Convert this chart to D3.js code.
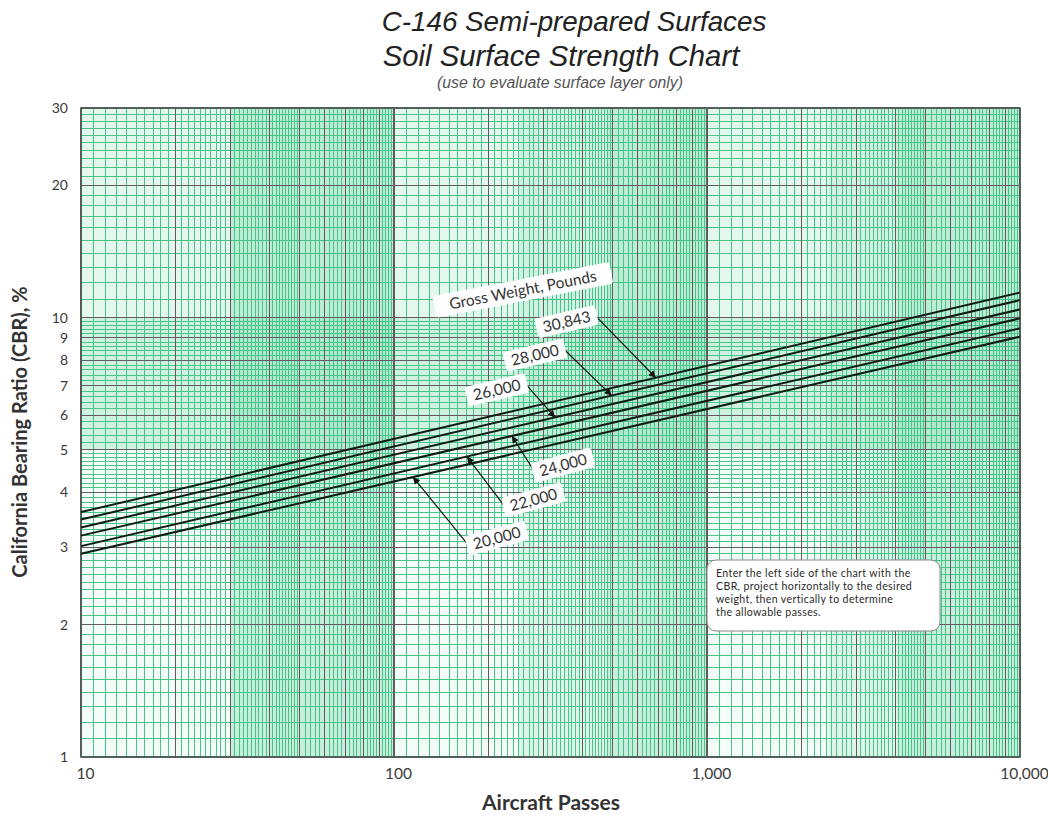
<!DOCTYPE html>
<html>
<head>
<meta charset="utf-8">
<script src="https://cdn.jsdelivr.net/npm/d3@7"></script>
<style>
  html, body { margin: 0; padding: 0; background: #ffffff; }
  svg { display: block; }
</style>
</head>
<body>
<svg id="chart" width="1048" height="816"></svg>
<script>
// ---------------- DATA ----------------
const weightLabels = ["20,000", "22,000", "24,000", "26,000", "28,000", "30,843"];
const passesEnds   = [10, 10000];
const cbrAt10      = [2.90, 3.02, 3.19, 3.33, 3.47, 3.61];
const cbrAt10000   = [9.05, 9.46, 9.96, 10.44, 10.96, 11.40];

// label anchor (passes, CBR) and arrow target passes for each weight
const labelPasses  = [213, 279, 347, 213, 282, 356];
const labelCbr     = [3.15, 3.85, 4.62, 6.85, 8.22, 9.79];
const arrowPasses  = [115, 171, 238, 327, 496, 686];

const xTickValues  = [10, 100, 1000, 10000];
const xTickLabels  = ["10", "100", "1,000", "10,000"];
const yTickValues  = [1, 2, 3, 4, 5, 6, 7, 8, 9, 10, 20, 30];
const yTickLabels  = ["1", "2", "3", "4", "5", "6", "7", "8", "9", "10", "20", "30"];

// tinted bands of the graph paper (passes ranges / CBR ranges)
const shadeXFrom   = [30, 250, 480, 2450, 4100];
const shadeXTo     = [100, 480, 1000, 4100, 10000];
const shadeXLevel  = [1, 0.5, 1, 0.5, 1];
const shadeYFrom   = [5, 10];
const shadeYTo     = [10, 30];
const shadeYLevel  = [1, 0.45];

const titleLines   = ["C-146 Semi-prepared Surfaces", "Soil Surface Strength Chart"];
const subtitle     = "(use to evaluate surface layer only)";
const xTitle       = "Aircraft Passes";
const yTitle       = "California Bearing Ratio (CBR), %";
const groupTitle   = "Gross Weight, Pounds";
const groupPos     = [258, 11.56];
const noteLines    = ["Enter the left side of the chart with the",
                      "CBR, project horizontally to the desired",
                      "weight, then vertically to determine",
                      "the allowable passes."];

// ---------------- CHART ----------------
const svg = d3.select("#chart");
const x = d3.scaleLog().domain([10, 10000]).range([81, 1020]);
const y = d3.scaleLog().domain([1, 30]).range([757, 108]);
const [x0, x1] = x.range();
const [y0, y1] = y.range();

svg.append("rect").attr("x", x0).attr("y", y1).attr("width", x1 - x0).attr("height", y0 - y1)
  .attr("fill", "#f3fcf7");

// shaded bands
const shadeG = svg.append("g").attr("shape-rendering", "crispEdges");
shadeXFrom.forEach((f, i) => {
  shadeG.append("rect").attr("x", x(f)).attr("y", y1)
    .attr("width", x(shadeXTo[i]) - x(f)).attr("height", y0 - y1)
    .attr("fill", "#7fd9ad").attr("fill-opacity", 0.38 * shadeXLevel[i]);
});
shadeYFrom.forEach((f, i) => {
  shadeG.append("rect").attr("x", x0).attr("y", y(shadeYTo[i]))
    .attr("width", x1 - x0).attr("height", y(f) - y(shadeYTo[i]))
    .attr("fill", "#7fd9ad").attr("fill-opacity", 0.3 * shadeYLevel[i]);
});

// grid values: finer steps in the lower half of each decade
const xMinor = [], xMajor = [];
[10, 100, 1000].forEach(d => {
  for (let k = 101; k < 1000; k++) {
    if (k % 100 === 0) continue;
    if (k < 500 && k % 10 === 0) xMinor.push(d * k / 100);
    else if (k >= 500 && k % 20 === 0) xMinor.push(d * k / 100);
  }
  for (let k = 1; k <= 9; k++) xMajor.push(d * k);
});
xMajor.push(10000);
const yMinor = [], yMajor = [];
for (let k = 101; k < 1000; k++) {
  if (k % 100 === 0) continue;
  if (k < 500 && k % 10 === 0) yMinor.push(k / 100);
  else if (k >= 500 && k % 20 === 0) yMinor.push(k / 100);
}
for (let k = 11; k <= 29; k++) if (k % 10 !== 0) yMinor.push(k);
for (let k = 1; k <= 10; k++) yMajor.push(k);
yMajor.push(20, 30);

const minorColor = "#48c48a";
const majorColor = "#625a5e";
const grid = svg.append("g").attr("shape-rendering", "crispEdges");
grid.selectAll(".xm").data(xMinor).join("line")
  .attr("x1", d => x(d)).attr("x2", d => x(d)).attr("y1", y1).attr("y2", y0)
  .attr("stroke", minorColor).attr("stroke-width", 1);
grid.selectAll(".ym").data(yMinor).join("line")
  .attr("y1", d => y(d)).attr("y2", d => y(d)).attr("x1", x0).attr("x2", x1)
  .attr("stroke", minorColor).attr("stroke-width", 1);
grid.selectAll(".xM").data(xMajor).join("line")
  .attr("x1", d => x(d)).attr("x2", d => x(d)).attr("y1", y1).attr("y2", y0)
  .attr("stroke", majorColor).attr("stroke-width", 1.2);
grid.selectAll(".yM").data(yMajor).join("line")
  .attr("y1", d => y(d)).attr("y2", d => y(d)).attr("x1", x0).attr("x2", x1)
  .attr("stroke", majorColor).attr("stroke-width", 1.2);

svg.append("rect").attr("x", x0).attr("y", y1).attr("width", x1 - x0).attr("height", y0 - y1)
  .attr("fill", "none").attr("stroke", "#4d6358").attr("stroke-width", 1.5);

const font = "Lato, 'Open Sans', sans-serif";

// axes
const xAxis = svg.append("g").attr("transform", `translate(0,${y0})`)
  .call(d3.axisBottom(x).tickValues(xTickValues).tickSize(0).tickPadding(11)
    .tickFormat((d, i) => xTickLabels[i]));
xAxis.select(".domain").remove();
xAxis.selectAll("text").attr("font-family", font)
  .attr("font-size", 15.5).attr("fill", "#3a3a3a").attr("dx", 4);

const yAxis = svg.append("g").attr("transform", `translate(${x0},0)`)
  .call(d3.axisLeft(y).tickValues(yTickValues).tickSize(0).tickPadding(13)
    .tickFormat((d, i) => yTickLabels[i]));
yAxis.select(".domain").remove();
yAxis.selectAll("text").attr("font-family", font)
  .attr("font-size", 14).attr("fill", "#3a3a3a");

// data lines
const lineGen = d3.line().x(d => x(d[0])).y(d => y(d[1]));
const series = weightLabels.map((w, i) => ({
  label: w,
  pts: [[passesEnds[0], cbrAt10[i]], [passesEnds[1], cbrAt10000[i]]]
}));
svg.append("g").selectAll("path").data(series).join("path")
  .attr("d", d => lineGen(d.pts)).attr("fill", "none")
  .attr("stroke", "#0e1a12").attr("stroke-width", 2);

function cbrOn(i, p) {
  const t = (Math.log10(p) - 1) / 3;
  return Math.pow(10, Math.log10(cbrAt10[i]) + t * (Math.log10(cbrAt10000[i]) - Math.log10(cbrAt10[i])));
}

svg.append("defs").append("marker").attr("id", "arr")
  .attr("viewBox", "0 0 10 10").attr("refX", 10).attr("refY", 5)
  .attr("markerWidth", 10).attr("markerHeight", 7).attr("markerUnits", "userSpaceOnUse")
  .attr("orient", "auto")
  .append("path").attr("d", "M0,0 L10,5 L0,10 Z").attr("fill", "#111");

const labG = svg.append("g");
weightLabels.forEach((w, i) => {
  const cx = x(labelPasses[i]), cy = y(labelCbr[i]);
  const top = i >= 3;
  const ang = top ? -13 : -15;
  const rad = ang * Math.PI / 180;
  const half = 28;
  const sx = cx + (top ? 1 : -1) * (half + 1) * Math.cos(rad);
  const sy = cy + (top ? 1 : -1) * (half + 1) * Math.sin(rad);
  const tx = x(arrowPasses[i]), ty = y(cbrOn(i, arrowPasses[i]));
  labG.append("line").attr("x1", sx).attr("y1", sy).attr("x2", tx).attr("y2", ty)
    .attr("stroke", "#111").attr("stroke-width", 1.2).attr("marker-end", "url(#arr)");
  const g = labG.append("g").attr("transform", `translate(${cx},${cy}) rotate(${ang})`);
  g.append("rect").attr("x", -half - 3).attr("y", -10).attr("width", 2 * half + 6).attr("height", 20)
    .attr("rx", 3).attr("fill", "#ffffff");
  g.append("text").attr("text-anchor", "middle").attr("dy", "0.35em")
    .attr("font-family", font).attr("font-size", 15.5).attr("fill", "#333")
    .text(w);
});

// group title
{
  const cx = x(groupPos[0]), cy = y(groupPos[1]);
  const g = svg.append("g").attr("transform", `translate(${cx},${cy}) rotate(-11)`);
  g.append("rect").attr("x", -90).attr("y", -11).attr("width", 180).attr("height", 22)
    .attr("rx", 3).attr("fill", "#ffffff");
  g.append("text").attr("text-anchor", "middle").attr("dy", "0.35em")
    .attr("font-family", font).attr("font-size", 15.5).attr("fill", "#333").text(groupTitle);
}

// note box
{
  const g = svg.append("g");
  g.append("rect").attr("x", 707).attr("y", 560).attr("width", 233).attr("height", 71)
    .attr("rx", 9).attr("fill", "#ffffff").attr("stroke", "#8a8a8a").attr("stroke-width", 1);
  g.selectAll("text").data(noteLines).join("text")
    .attr("x", 716).attr("y", (d, i) => 577 + i * 13)
    .attr("font-family", font).attr("font-size", 10.6).attr("letter-spacing", 0.35)
    .attr("fill", "#2a2a2a").text(d => d);
}

// titles
const titleFont = "'Liberation Sans', Arial, sans-serif";
svg.append("text").attr("x", 574).attr("y", 31).attr("text-anchor", "middle")
  .attr("font-family", titleFont).attr("font-style", "italic")
  .attr("font-size", 27.8).attr("fill", "#222").text(titleLines[0]);
svg.append("text").attr("x", 561).attr("y", 66).attr("text-anchor", "middle")
  .attr("font-family", titleFont).attr("font-style", "italic")
  .attr("font-size", 29.3).attr("fill", "#222").text(titleLines[1]);
svg.append("text").attr("x", 560).attr("y", 88).attr("text-anchor", "middle")
  .attr("font-family", titleFont).attr("font-style", "italic")
  .attr("font-size", 15.8).attr("fill", "#555").text(subtitle);

svg.append("text").attr("x", 551).attr("y", 810).attr("text-anchor", "middle")
  .attr("font-family", font).attr("font-weight", "bold").attr("font-size", 21)
  .attr("fill", "#333").text(xTitle);
svg.append("text").attr("transform", "translate(27,432) rotate(-90)").attr("text-anchor", "middle")
  .attr("font-family", font).attr("font-weight", "bold").attr("font-size", 20)
  .attr("fill", "#333").text(yTitle);
</script>
</body>
</html>
